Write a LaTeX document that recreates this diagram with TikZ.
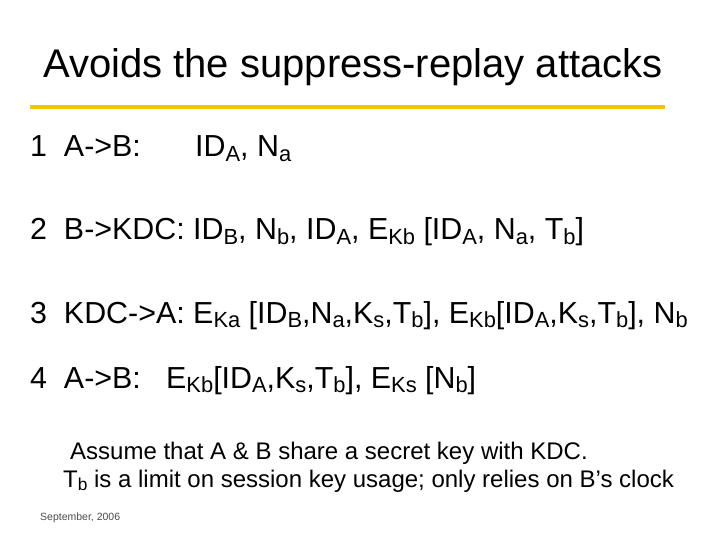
\documentclass[tikz,border=0pt]{standalone}
\usepackage{fontspec}
\setmainfont{Liberation Sans}
\newcommand\lo[1]{\raisebox{-0.3ex}{\scalebox{0.72}{#1}}}
\definecolor{bar}{RGB}{245,196,0}
\tikzset{line/.style={anchor=base west,inner sep=0pt,font=\fontsize{30.4}{36}\selectfont},
small/.style={anchor=base west,inner sep=0pt,font=\fontsize{24}{28}\selectfont}}
\begin{document}
\begin{tikzpicture}[x=1pt,y=-1pt]
\useasboundingbox[fill=white] (0,0) rectangle (720,540);
\node[anchor=base,inner sep=0pt,font=\fontsize{40}{46}\selectfont] (t) at (353,78) {Avoids the suppress-replay attacks};
\coordinate (l1) at (30,107); \coordinate (l2) at (665,107);
\draw[bar,line width=4pt] (l1) -- (l2);
\node[line] (a) at (30,157) {1\ \ A->B:};
\node[line] (a2) at (195,157) {ID\lo{A}, N\lo{a}};
\node[line] (b) at (30,240) {2\ \ B->KDC: ID\lo{B}, N\lo{b}, ID\lo{A}, E\lo{Kb} [ID\lo{A}, N\lo{a}, T\lo{b}]};
\node[line] (c) at (30,323) {3\ \ KDC->A: E\lo{Ka} [ID\lo{B},N\lo{a},K\lo{s},T\lo{b}], E\lo{Kb}[ID\lo{A},K\lo{s},T\lo{b}], N\lo{b}};
\node[line] (d) at (30,388) {4\ \ A->B:\ \ \ E\lo{Kb}[ID\lo{A},K\lo{s},T\lo{b}], E\lo{Ks} [N\lo{b}]};
\node[small] (e) at (70,459) {Assume that A \& B share a secret key with KDC.};
\node[small] (f) at (63,487) {T\lo{b} is a limit on session key usage; only relies on B’s clock};
\node[anchor=base west,inner sep=0pt,font=\fontsize{10.5}{13}\selectfont,text=black!70] (g) at (40,520) {September, 2006};
\end{tikzpicture}
\end{document}
